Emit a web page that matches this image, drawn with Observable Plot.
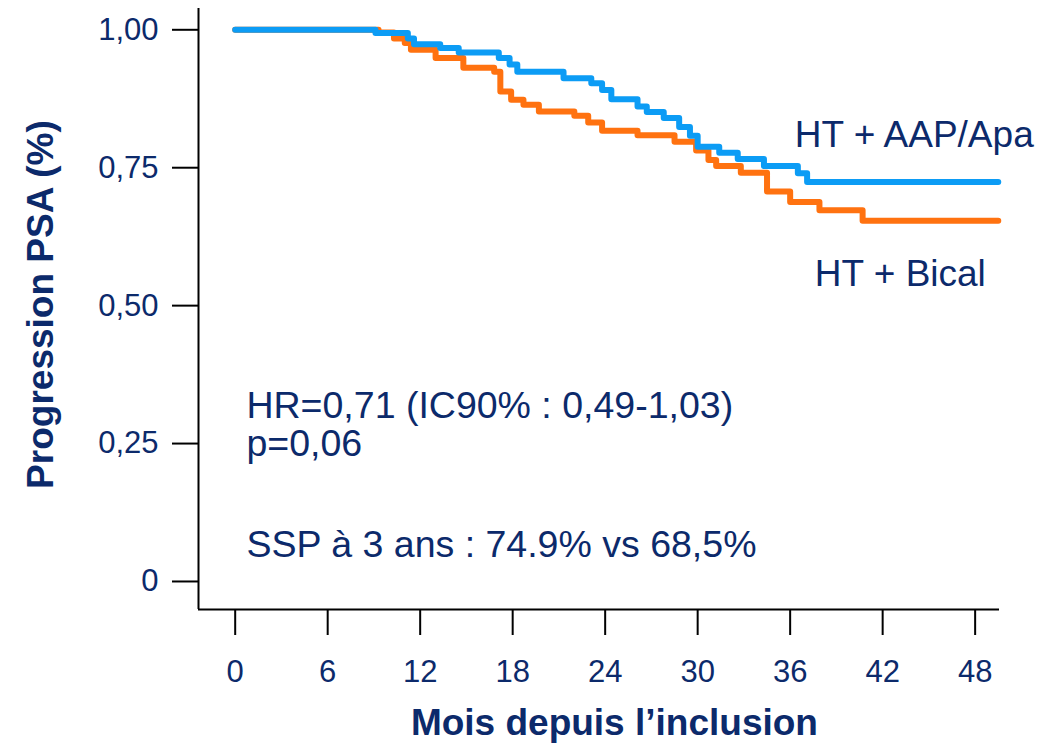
<!DOCTYPE html>
<html>
<head>
<meta charset="utf-8">
<script src="https://cdn.jsdelivr.net/npm/d3@7"></script>
<script src="https://cdn.jsdelivr.net/npm/@observablehq/plot@0.6"></script>
<style>
  html, body { margin: 0; padding: 0; background: #fff; }
  #chart svg { font-family: "Liberation Sans", Arial, sans-serif; }
</style>
</head>
<body>
<div id="chart"></div>
<script>
// ---- Data ----
const seriesNames = ["HT + AAP/Apa", "HT + Bical"];

const apaMonths = [0, 9.1, 11.2, 11.6, 13.3, 14.5, 17.1, 17.8, 18.3, 21.3, 23.1, 23.8, 24.4, 26.1, 26.7, 27.8, 28.8, 29.5, 30.0, 31.4, 32.6, 34.3, 36.5, 37.1, 49.5];
const apaSurv   = [1.0, 0.994, 0.984, 0.974, 0.967, 0.959, 0.949, 0.937, 0.924, 0.912, 0.903, 0.891, 0.874, 0.861, 0.851, 0.840, 0.824, 0.808, 0.788, 0.777, 0.766, 0.753, 0.740, 0.724, 0.724];

const bicalMonths = [0, 9.3, 10.3, 11.0, 11.4, 13.0, 14.8, 16.8, 17.2, 17.9, 18.7, 19.7, 22.0, 22.9, 23.8, 26.1, 28.5, 29.9, 30.7, 31.2, 32.8, 34.5, 36.0, 37.9, 40.7, 49.5];
const bicalSurv   = [1.0, 0.995, 0.984, 0.976, 0.964, 0.949, 0.931, 0.924, 0.888, 0.873, 0.864, 0.852, 0.844, 0.832, 0.817, 0.809, 0.797, 0.781, 0.764, 0.753, 0.741, 0.707, 0.688, 0.673, 0.654, 0.654];

const xTicks = [0, 6, 12, 18, 24, 30, 36, 42, 48];
const yTicks = [0, 0.25, 0.5, 0.75, 1.0];
const yTickLabels = ["0", "0,25", "0,50", "0,75", "1,00"];

const xTitle = "Mois depuis l\u2019inclusion";
const yTitle = "Progression PSA (%)";

const annotations = [
  {text: "HR=0,71 (IC90% : 0,49-1,03)", x: 0.73, y: 0.297},
  {text: "p=0,06", x: 0.73, y: 0.227},
  {text: "SSP \u00e0 3 ans : 74.9% vs 68,5%", x: 0.73, y: 0.045}
];
const seriesLabels = [
  {text: seriesNames[0], x: 36.3, y: 0.788},
  {text: seriesNames[1], x: 37.6, y: 0.535}
];
const titleX = [{text: xTitle, x: 24.6, y: -0.256}];
const titleY = [{text: yTitle, x: -12.6, y: 0.502}];

// ---- Build tables ----
const apa = apaMonths.map((t, i) => ({t, s: apaSurv[i]}));
const bical = bicalMonths.map((t, i) => ({t, s: bicalSurv[i]}));

const navy = "#0c2a6b";
const blue = "#0c9cf5";
const orange = "#ff7210";

const xDomain = [-2.38, 49.58];
const yDomain = [-0.0508, 1.0386];

const chart = Plot.plot({
  width: 1061,
  height: 743,
  marginLeft: 198,
  marginRight: 62,
  marginTop: 8,
  marginBottom: 134,
  x: {domain: xDomain},
  y: {domain: yDomain},
  style: {fontFamily: "'Liberation Sans', Arial, sans-serif", color: navy, background: "white", overflow: "visible"},
  marks: [
    // tick marks
    Plot.axisX({ticks: xTicks, tickSize: 26, tickFormat: () => "", stroke: "black", strokeWidth: 2, label: null}),
    Plot.axisY({ticks: yTicks, tickSize: 26, tickFormat: () => "", stroke: "black", strokeWidth: 2, label: null}),
    // tick labels
    Plot.axisX({ticks: xTicks, tickSize: 0, tickPadding: 50, fontSize: 31, fill: navy, label: null, tickFormat: d => String(d)}),
    Plot.axisY({ticks: yTicks, tickSize: 0, tickPadding: 40, fontSize: 31, fill: navy, label: null,
      tickFormat: d => yTickLabels[yTicks.indexOf(d)]}),
    // axis lines
    Plot.ruleX([xDomain[0]], {stroke: "black", strokeWidth: 2}),
    Plot.ruleY([yDomain[0]], {stroke: "black", strokeWidth: 2}),
    // curves
    Plot.line(bical, {x: "t", y: "s", curve: "step-after", stroke: orange, strokeWidth: 6}),
    Plot.line(apa, {x: "t", y: "s", curve: "step-after", stroke: blue, strokeWidth: 6}),
    // texts
    Plot.text(annotations, {x: "x", y: "y", text: "text", textAnchor: "start", lineAnchor: "bottom", fontSize: 37.5, fill: navy}),
    Plot.text(seriesLabels, {x: "x", y: "y", text: "text", textAnchor: "start", lineAnchor: "bottom", fontSize: 37, fill: navy}),
    // axis titles
    Plot.text(titleX, {x: "x", y: "y", text: "text", lineAnchor: "middle", fontSize: 37, fontWeight: "bold", fill: navy}),
    Plot.text(titleY, {x: "x", y: "y", text: "text", rotate: -90, lineAnchor: "middle", fontSize: 37, fontWeight: "bold", fill: navy})
  ]
});

document.getElementById("chart").appendChild(chart);
</script>
</body>
</html>
